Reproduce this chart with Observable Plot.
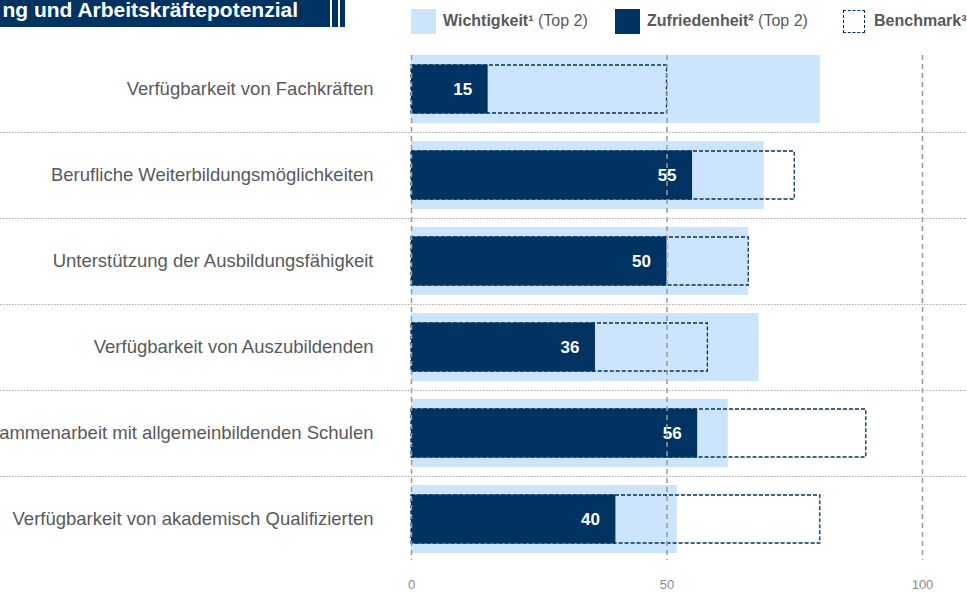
<!DOCTYPE html>
<html>
<head>
<meta charset="utf-8">
<script src="https://cdn.jsdelivr.net/npm/d3@7"></script>
<script src="https://cdn.jsdelivr.net/npm/@observablehq/plot@0.6"></script>
<style>
  html, body { margin: 0; padding: 0; background: #fff; overflow: hidden; }
  body { font-family: "Liberation Sans", Arial, sans-serif; }
  #wrap { position: relative; width: 967px; height: 592px; }
  #header { position: relative; width: 967px; height: 40px; }
  .navy { position: absolute; background: #003361; }
  .title { position: absolute; right: 669px; top: -1px; color: #fff; font-family: "Liberation Sans", Arial, sans-serif; font-weight: bold; font-size: 21px; line-height: 22px; white-space: nowrap; }
  .sw { position: absolute; box-sizing: border-box; }
  .lg { position: absolute; top: 12px; font-size: 16px; color: #595959; white-space: nowrap; }
  .lg b { font-weight: bold; }
</style>
</head>
<body>
<div id="wrap">
  <div id="header">
    <div class="navy" style="left:0;top:0;width:330px;height:27px;"></div>
    <div class="navy" style="left:332px;top:0;width:6px;height:27px;"></div>
    <div class="navy" style="left:340px;top:0;width:5px;height:27px;"></div>
    <div class="title">ng und Arbeitskräftepotenzial</div>
    <div id="legend"></div>
  </div>
  <div id="chart"></div>
</div>
<script>
const categories = [
  "Verfügbarkeit von Fachkräften",
  "Berufliche Weiterbildungsmöglichkeiten",
  "Unterstützung der Ausbildungsfähigkeit",
  "Verfügbarkeit von Auszubildenden",
  "Zusammenarbeit mit allgemeinbildenden Schulen",
  "Verfügbarkeit von akademisch Qualifizierten"
];
const importance = [80, 69, 66, 68, 62, 52];
const satisfaction = [15, 55, 50, 36, 56, 40];
const benchmark = [50, 75, 66, 58, 89, 80];
const xTicks = [0, 50, 100];
const legendItems = [
  {bold: "Wichtigkeit¹", rest: " (Top 2)", kind: "light"},
  {bold: "Zufriedenheit²", rest: " (Top 2)", kind: "dark"},
  {bold: "Benchmark³", rest: "", kind: "bench"}
];

const LIGHT = "#cce5fc";
const NAVY = "#003361";

const data = categories.map((c, i) => ({
  cat: c, imp: importance[i], sat: satisfaction[i], bench: benchmark[i]
}));

// legend
const legendPos = [
  {sw: 411, tx: 443},
  {sw: 615, tx: 647},
  {sw: 843, tx: 874}
];
const legend = document.getElementById("legend");
legendItems.forEach((d, i) => {
  const sw = document.createElement("div");
  sw.className = "sw";
  if (d.kind === "light") {
    Object.assign(sw.style, {left: legendPos[i].sw + "px", top: "9px", width: "25px", height: "25px", background: LIGHT});
  } else if (d.kind === "dark") {
    Object.assign(sw.style, {left: legendPos[i].sw + "px", top: "9px", width: "25px", height: "25px", background: NAVY});
  } else {
    Object.assign(sw.style, {left: legendPos[i].sw + "px", top: "10px", width: "22px", height: "23px", border: "1.2px dashed " + NAVY});
  }
  legend.appendChild(sw);
  const t = document.createElement("div");
  t.className = "lg";
  t.style.left = legendPos[i].tx + "px";
  t.innerHTML = "<b>" + d.bold + "</b>" + d.rest;
  legend.appendChild(t);
});

const chart = Plot.plot({
  width: 967,
  height: 552,
  marginLeft: 411,
  marginRight: 45,
  marginTop: 6,
  marginBottom: 30,
  style: {fontFamily: "'Liberation Sans', Arial, sans-serif", overflow: "visible", background: "transparent"},
  x: {domain: [0, 100], axis: null},
  y: {domain: categories, padding: 0, axis: null},
  marks: [
    Plot.barX(data, {x: "imp", y: "cat", fill: LIGHT, insetTop: 9, insetBottom: 9}),
    Plot.barX(data, {x: "bench", y: "cat", fill: "none", stroke: NAVY, strokeWidth: 1.3, strokeDasharray: "4,2", insetTop: 19, insetBottom: 19}),
    Plot.barX(data, {x: "sat", y: "cat", fill: NAVY, insetTop: 18.5, insetBottom: 18.5}),
    Plot.text(data, {x: "sat", y: "cat", text: d => String(d.sat), textAnchor: "end", dx: -16, fill: "white", fontWeight: "bold", fontSize: 17}),
    Plot.ruleX(xTicks, {stroke: "#999", strokeWidth: 1.5, strokeDasharray: "5,4", insetTop: 9, insetBottom: 2}),
    Plot.ruleY(categories.slice(1), {y: d => d, dy: -43, stroke: "#aaa", strokeWidth: 1, strokeDasharray: "1.5,1.5", insetLeft: -411, insetRight: -45}),
    Plot.axisX(xTicks, {tickSize: 0, tickPadding: 17, fontSize: 13, color: "#8c8c8c", label: null}),
    Plot.axisY({tickSize: 0, tickPadding: 38, fontSize: 18.5, color: "#595959", label: null})
  ]
});
document.getElementById("chart").appendChild(chart);
</script>
</body>
</html>
